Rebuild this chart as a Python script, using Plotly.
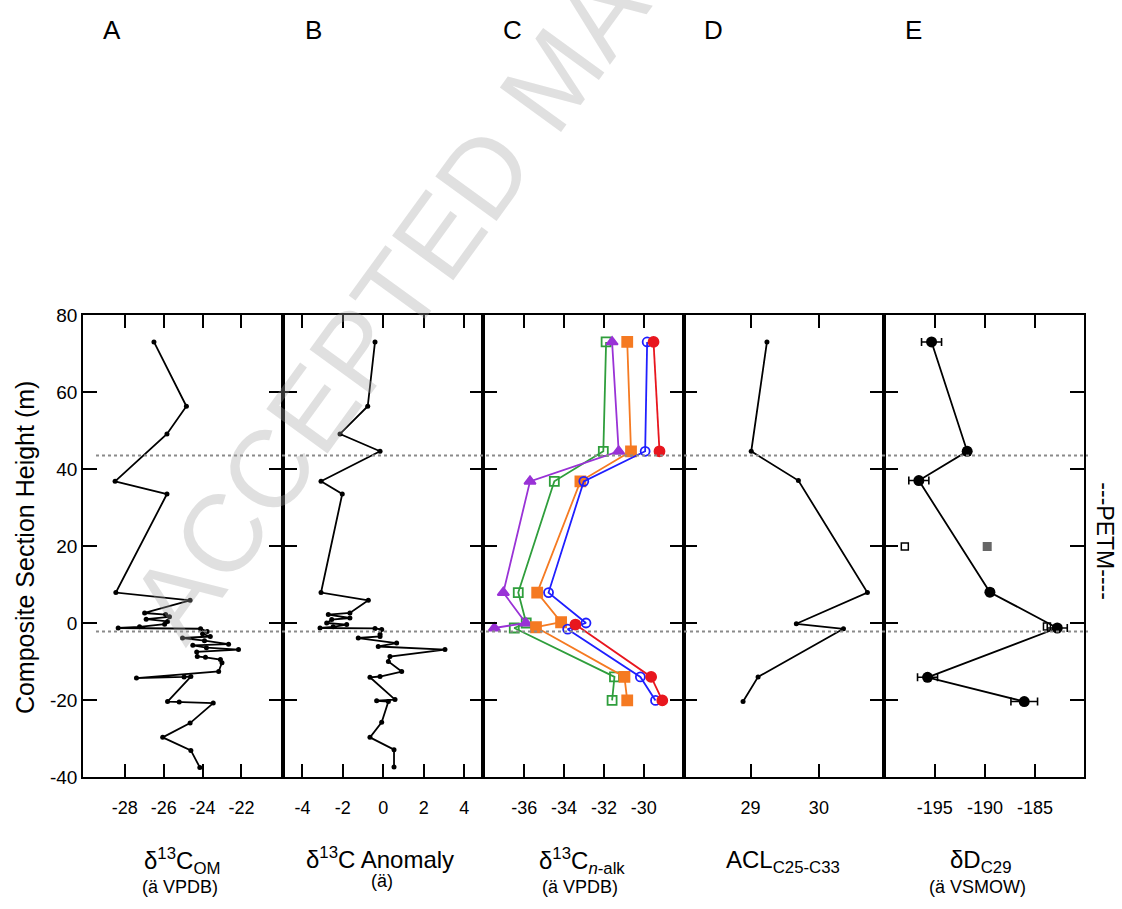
import plotly.graph_objects as go

# ---------------- DATA ----------------
# Panel A: d13C of organic matter (per mil VPDB) vs composite height (m)
height_A = [73.0, 56.3, 49.1, 36.8, 33.5, 7.9, 5.9, 2.6, 2.2, 1.6, 1.0, 0.4, -0.3, -1.0, -1.3, -1.5,
            -2.2, -2.8, -3.5, -3.9, -4.6, -5.5, -5.8, -6.4, -6.9, -7.5, -8.7, -8.9, -9.5, -10.3,
            -12.6, -14.3, -14.0, -13.9, -20.4, -20.5, -20.8, -26.0, -29.7, -33.1, -37.5]
d13C_OM = [-26.5, -24.83, -25.83, -28.5, -25.83, -28.46, -24.64, -26.98, -25.9, -25.7, -26.9, -25.8,
           -25.95, -27.24, -28.34, -24.1, -23.76, -24.0, -23.6, -25.03, -23.9, -22.66, -24.5, -23.8,
           -22.15, -24.3, -24.27, -23.85, -23.08, -23.0, -23.17, -27.4, -24.95, -24.6, -25.8, -25.2,
           -23.45, -24.64, -26.05, -24.6, -24.14]

# Panel B: d13C anomaly (per mil)
height_B = [73.0, 56.3, 49.1, 44.6, 36.8, 33.5, 7.9, 5.9, 2.6, 2.2, 1.3, 0.9, 0.0, -0.4, -1.0, -1.3,
            -1.4, -1.7, -2.9, -3.5, -3.9, -5.2, -6.1, -6.9, -8.7, -10.0, -12.6, -13.9, -14.1, -19.9,
            -20.2, -20.4, -25.8, -29.7, -32.9, -37.4]
anomaly_B = [-0.41, -0.77, -2.14, -0.16, -3.08, -2.03, -3.08, -0.74, -1.65, -2.72, -1.65, -2.55, -2.8,
             -1.81, -2.48, -3.13, -0.41, -0.08, -0.16, -0.16, -1.24, 0.66, -0.25, 3.05, 0.33, 0.25,
             0.91, -0.16, -0.66, 0.58, -0.33, 0.25, -0.08, -0.66, 0.53, 0.53]

# Panel C: d13C of n-alkanes (per mil VPDB), five compound series
C_red_h = [73.0, 44.6, None, -0.4, -14.0, -20.1]
C_red_v = [-29.51, -29.21, None, -33.43, -29.63, -29.07]
C_blue_h = [73.0, 44.6, 36.8, 7.9, 0.0, -1.6, -14.0, -20.1]
C_blue_v = [-29.83, -29.93, -33.01, -34.78, -32.9, -33.82, -30.17, -29.41]
C_orange_h = [73.0, 44.6, 36.8, 7.9, 0.2, -1.1, -14.0, -20.1]
C_orange_v = [-30.83, -30.64, -33.18, -35.35, -34.15, -35.41, -30.97, -30.83]
C_green_h = [73.0, 44.6, 36.8, 7.9, 0.0, -1.3, -14.0, -20.1]
C_green_v = [-31.89, -32.03, -34.49, -36.3, -35.9, -36.5, -31.47, -31.59]
C_purple_h = [73.0, 44.6, 36.8, 7.9, 0.0, -1.3]
C_purple_v = [-31.59, -31.26, -35.71, -37.05, -35.92, -37.5]

# Panel D: average chain length C25-C33
height_D = [73.0, 44.6, 37.0, 7.9, -0.2, -1.5, -14.0, -20.4]
ACL_D = [29.24, 29.01, 29.70, 30.71, 29.67, 30.36, 29.11, 28.89]

# Panel E: dD of C29 (per mil VSMOW)
height_E = [73.0, 44.6, 37.0, 8.0, -1.3, -14.1, -20.4]
dD_E = [-195.33, -191.77, -196.6, -189.5, -182.77, -195.73, -186.07]
dD_err = [1.0, 0.3, 1.0, 0.3, 1.0, 1.0, 1.33]
height_E_open = [19.9, -0.9]
dD_E_open = [-198.0, -183.8]
height_E_gray = [19.9]
dD_E_gray = [-189.77]

petm_bounds = [43.5, -2.2]

# tick values and labels
y_ticks = [-40, -20, 0, 20, 40, 60, 80]
y_ticklabels = ["-40", "-20", "0", "20", "40", "60", "80"]
x_ticks = [[-28, -26, -24, -22], [-4, -2, 0, 2, 4], [-36, -34, -32, -30], [29, 30],
           [-195, -190, -185]]
x_ticklabels = [["-28", "-26", "-24", "-22"], ["-4", "-2", "0", "2", "4"],
                ["-36", "-34", "-32", "-30"], ["29", "30"], ["-195", "-190", "-185"]]

# ---------------- FIGURE ----------------
FONT = "Liberation Sans, Arial, sans-serif"
fig = go.Figure()

def line_trace(x, y, xa, ya, color="black", size=5, symbol="circle", name=""):
    return go.Scatter(x=x, y=y, xaxis=xa, yaxis=ya, mode="lines+markers", name=name,
                      line=dict(color=color, width=1.8),
                      marker=dict(color=color, size=size, symbol=symbol),
                      connectgaps=False, showlegend=False)

fig.add_trace(line_trace(d13C_OM, height_A, "x", "y"))
fig.add_trace(line_trace(anomaly_B, height_B, "x2", "y2"))

RED, BLUE, ORANGE, GREEN, PURPLE = "#e8161e", "#1f1fff", "#f57a22", "#2f9e3c", "#9932d6"
fig.add_trace(line_trace(C_green_v, C_green_h, "x3", "y3", GREEN, 9,
                         "square-open", "green"))
fig.add_trace(line_trace(C_purple_v, C_purple_h, "x3", "y3", PURPLE, 10,
                         "triangle-up", "purple"))
fig.add_trace(line_trace(C_orange_v, C_orange_h, "x3", "y3", ORANGE, 10,
                         "square", "orange"))
fig.add_trace(line_trace(C_blue_v, C_blue_h, "x3", "y3", BLUE, 9,
                         "circle-open", "blue"))
fig.add_trace(line_trace(C_red_v, C_red_h, "x3", "y3", RED, 10,
                         "circle", "red"))
for tr in fig.data[2:]:
    tr.marker.line = dict(width=1.8, color=tr.marker.color)

fig.add_trace(line_trace(ACL_D, height_D, "x4", "y4"))

fig.add_trace(go.Scatter(x=dD_E_open, y=height_E_open, xaxis="x5", yaxis="y5", mode="markers",
                         marker=dict(symbol="square-open", size=7, color="black",
                                     line=dict(width=1.5, color="black")),
                         showlegend=False))
fig.add_trace(go.Scatter(x=dD_E_gray, y=height_E_gray, xaxis="x5", yaxis="y5", mode="markers",
                         marker=dict(symbol="square", size=9, color="#666666"),
                         showlegend=False))
fig.add_trace(go.Scatter(x=dD_E, y=height_E, xaxis="x5", yaxis="y5", mode="lines+markers",
                         line=dict(color="black", width=1.8),
                         marker=dict(color="black", size=11),
                         error_x=dict(type="data", array=dD_err, color="black",
                                      thickness=1.6, width=4),
                         showlegend=False))

x_ranges = [[-30.15, -19.85], [-4.95, 4.95], [-38.05, -28.0], [28.02, 30.95], [-200.1, -180.1]]

layout = dict(
    width=1122, height=909,
    margin=dict(l=83, r=38, t=315, b=132),
    paper_bgcolor="white", plot_bgcolor="white",
    font=dict(family=FONT, color="black", size=18),
    showlegend=False,
)
for i in range(5):
    sfx = "" if i == 0 else str(i + 1)
    layout["xaxis" + sfx] = dict(
        domain=[i * 0.2, (i + 1) * 0.2], range=x_ranges[i],
        tickmode="array", tickvals=x_ticks[i], ticktext=x_ticklabels[i],
        ticks="inside", ticklen=13, tickwidth=1.6, tickcolor="black",
        showline=True, linewidth=1.6, linecolor="black", mirror="ticks",
        showgrid=False, zeroline=False, anchor="y" + sfx,
        tickfont=dict(size=18, family=FONT), ticklabelstandoff=14,
    )
    layout["yaxis" + sfx] = dict(
        domain=[0, 1], range=[-40, 80],
        tickmode="array", tickvals=y_ticks, ticktext=y_ticklabels,
        ticks="inside", ticklen=14, tickwidth=1.6, tickcolor="black",
        showline=True, linewidth=1.6, linecolor="black", mirror="ticks",
        showgrid=False, zeroline=False, anchor="x" + sfx,
        showticklabels=(i == 0), tickfont=dict(size=19, family=FONT),
    )
fig.update_layout(**layout)

# PETM boundaries (dotted)
for yb in petm_bounds:
    fig.add_shape(type="line", xref="paper", yref="y", x0=0.013, x1=1.004, y0=yb, y1=yb,
                  line=dict(color="#8a8a8a", width=2, dash="3px,3px"), layer="above")

def note(text, x, y, size, angle=0):
    return dict(text=text, xref="paper", yref="paper", x=x, y=y, xanchor="center",
                yanchor="middle", showarrow=False, textangle=angle,
                font=dict(size=size, family=FONT, color="black"))

ann = []
# watermark
wm = note("ACCEPTED MANUSCRIPT", 0.4705, 1.5155, 110, -54)
wm["font"]["color"] = "rgba(160,160,160,0.33)"
ann.append(wm)
# panel letters
for letter, xp in zip("ABCDE", [0.029, 0.2298, 0.4286, 0.6294, 0.8292]):
    ann.append(note(letter, xp, 1.617, 26))
# y title
ann.append(note("Composite Section Height (m)", -0.058, 0.4975, 25, -90))
# x titles
titles = [("δ<sup>13</sup>C<sub>OM</sub>", 0.0994, -0.1826, "(ä VPDB)", 0.0969, -0.2389),
          ("δ<sup>13</sup>C Anomaly", 0.2967, -0.176, "(ä)", 0.2987, -0.2259),
          ("δ<sup>13</sup>C<sub><i>n</i>-alk</sub>", 0.499, -0.1826, "(ä VPDB)", 0.4965, -0.2389),
          ("ACL<sub>C25-C33</sub>", 0.6993, -0.1826, None, None, None),
          ("δD<sub>C29</sub>", 0.8971, -0.1826, "(ä VSMOW)", 0.8936, -0.2389)]
for t1, x1, y1, t2, x2, y2 in titles:
    ann.append(note(t1, x1, y1, 24))
    if t2:
        ann.append(note(t2, x2, y2, 18))
# PETM label
ann.append(note("---PETM----", 1.021, 0.51, 23, 90))
fig.update_layout(annotations=ann)

fig.write_html("out.html", config={"displayModeBar": False},
               post_script="document.body.style.margin='0';")
